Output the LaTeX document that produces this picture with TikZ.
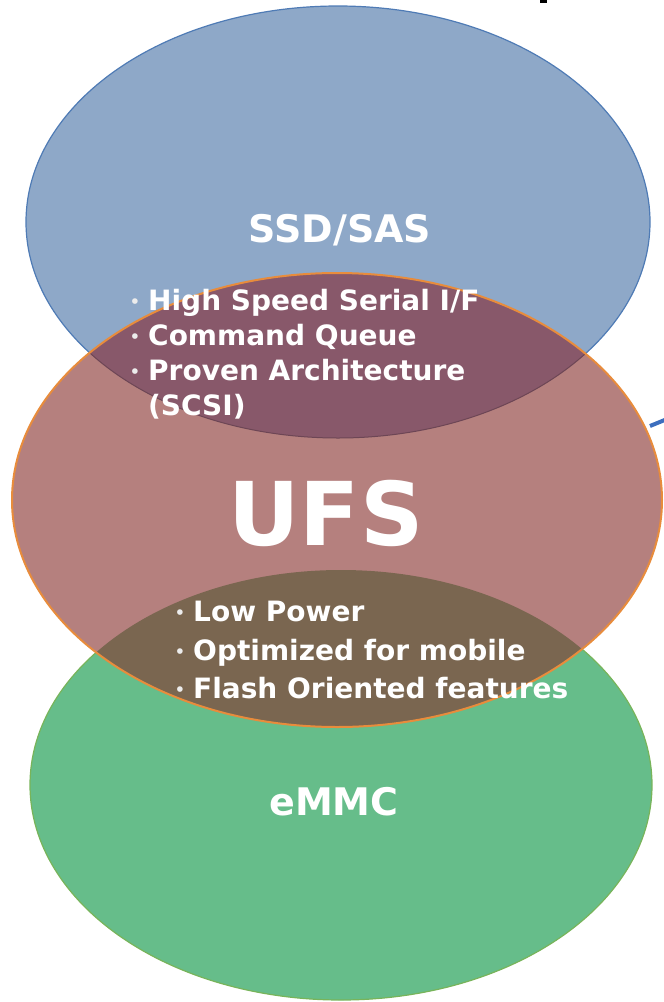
\documentclass[tikz,border=0pt]{standalone}
\usepackage{fontspec}
\setmainfont{DejaVu Sans}
\definecolor{blueFill}{RGB}{142,168,200}
\definecolor{blueEdge}{RGB}{79,123,181}
\definecolor{greenFill}{RGB}{102,189,138}
\definecolor{greenEdge}{RGB}{120,180,90}
\definecolor{ufsFill}{RGB}{181,128,126}
\definecolor{ufsEdge}{RGB}{232,140,60}
\definecolor{topMix}{RGB}{136,88,106}
\definecolor{botMix}{RGB}{122,102,80}
\definecolor{arrowBlue}{RGB}{60,110,190}
\tikzset{
  lbl/.style={text=white, font=\bfseries, inner sep=0pt},
  item/.style={lbl, anchor=base west, font=\bfseries\fontsize{28}{34}\selectfont},
  dot/.style={lbl, anchor=base, text=white!85!gray, font=\bfseries\fontsize{16}{20}\selectfont},
}
\begin{document}
\begin{tikzpicture}[x=1pt,y=-1pt]
\useasboundingbox (0,0) rectangle (664,1002);
\def\ssdpath{(338,222) ellipse [x radius=312pt, y radius=216pt]}
\def\ufspath{(337,500) ellipse [x radius=325pt, y radius=227pt]}
\def\emmcpath{(341,785) ellipse [x radius=311pt, y radius=215pt]}

% pointer line leaving the right edge
\draw[arrowBlue, line width=4pt] (650,426) -- (672,417);
% stray glyph fragment at the top edge
\fill[black] (540,0) rectangle (547,3);

% the three sets
\filldraw[fill=blueFill, draw=blueEdge, line width=1.2pt] \ssdpath;
\filldraw[fill=greenFill, draw=greenEdge, line width=1.2pt] \emmcpath;
\fill[ufsFill] \ufspath;
\begin{scope}
  \clip \ufspath;
  \fill[topMix] \ssdpath;
  \fill[botMix] \emmcpath;
  \draw[topMix!80!black, line width=1pt] \ssdpath;
\end{scope}
\draw[ufsEdge, line width=2pt] \ufspath;

% labels
\node[lbl, anchor=base, font=\bfseries\fontsize{38}{44}\selectfont] (ssd) at (340,242) {SSD/SAS};
\node[lbl, anchor=base, font=\bfseries\fontsize{88}{96}\selectfont] (ufs) at (326,545) {UFS};
\node[lbl, anchor=base, font=\bfseries\fontsize{38}{44}\selectfont] (emmc) at (334,815) {eMMC};

% shared features with SSD/SAS
\node[dot] (d1) at (135,307) {•};
\node[item] (t1) at (148,310) {High Speed Serial I/F};
\node[dot] (d2) at (135,342) {•};
\node[item] (t2) at (148,345) {Command Queue};
\node[dot] (d3) at (135,377) {•};
\node[item] (t3) at (148,380) {Proven Architecture};
\node[item] (t4) at (148,415) {(SCSI)};

% shared features with eMMC
\node[dot] (e1) at (180,618) {•};
\node[item] (u1) at (193,621) {Low Power};
\node[dot] (e2) at (180,657) {•};
\node[item] (u2) at (193,660) {Optimized for mobile};
\node[dot] (e3) at (180,695) {•};
\node[item] (u3) at (193,698) {Flash Oriented features};
\end{tikzpicture}
\end{document}
